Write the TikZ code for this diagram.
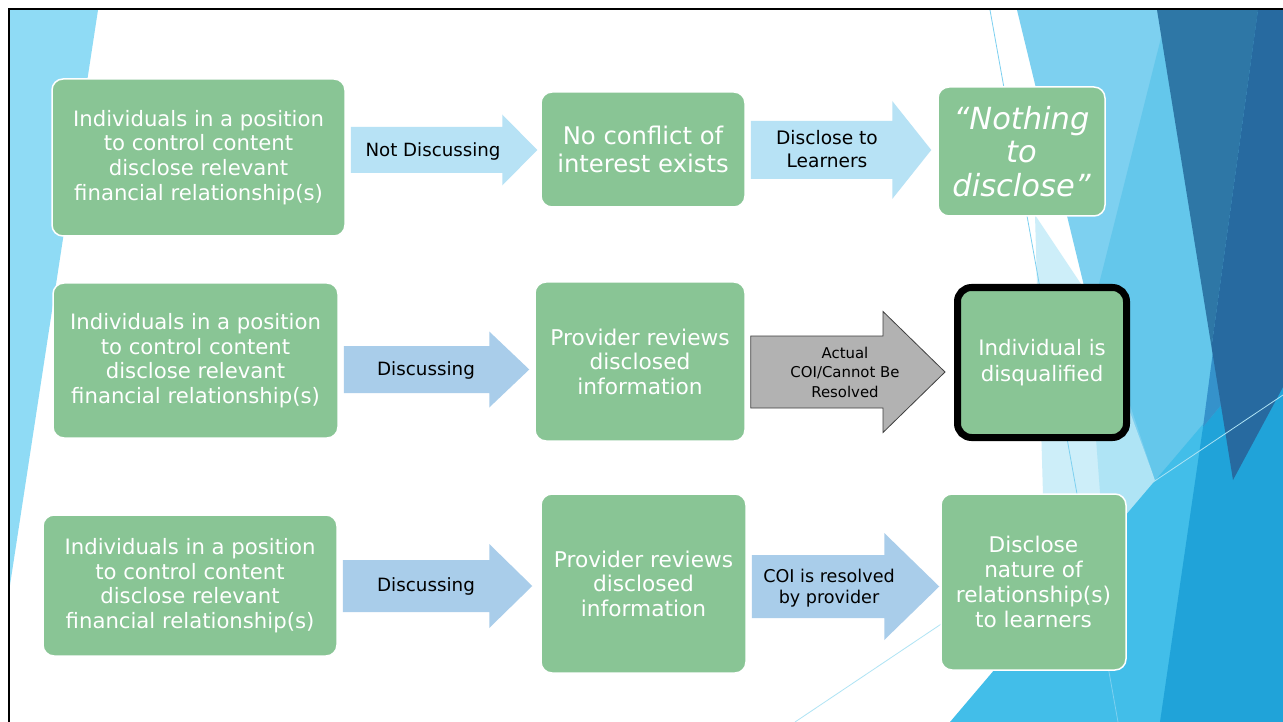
\documentclass[tikz,border=0pt]{standalone}
\usepackage{fontspec}
\setmainfont{DejaVu Sans}
\usetikzlibrary{positioning}

\definecolor{boxgreen}{RGB}{137,197,149}
\definecolor{paleblue}{RGB}{183,226,245}
\definecolor{steelblue}{RGB}{169,205,234}
\definecolor{coigray}{RGB}{178,178,178}
\definecolor{wedgeblue}{RGB}{143,219,245}
\definecolor{facetpale}{RGB}{205,238,249}
\definecolor{facetlight}{RGB}{125,208,240}
\definecolor{facetsoft}{RGB}{175,228,245}
\definecolor{facetmid}{RGB}{100,199,235}
\definecolor{facetcyan}{RGB}{66,190,233}
\definecolor{facetbright}{RGB}{32,163,217}
\definecolor{facetband}{RGB}{53,146,203}
\definecolor{facetdark}{RGB}{46,119,166}
\definecolor{facetdeep}{RGB}{39,106,160}

\newcommand{\fsz}[2]{\fontsize{#1}{#2}\selectfont}

% block arrow from one box to the next:
% #1 style, #2 from, #3 to, #4 centre y, #5 half shaft, #6 half head, #7 head length, #8 gap at tip
\newcommand{\blockarrow}[8]{%
  \coordinate (tail) at ([xshift=5pt]#2.east);
  \coordinate (tip) at ([xshift=-#8pt]#3.west);
  \coordinate (neck) at ([xshift=-#7pt]tip);
  \path[#1] (tail |- 0,{#4-#5}) -- (neck |- 0,{#4-#5}) -- (neck |- 0,{#4-#6})
    -- (tip |- 0,#4) -- (neck |- 0,{#4+#6}) -- (neck |- 0,{#4+#5})
    -- (tail |- 0,{#4+#5}) -- cycle;
}

\tikzset{
  greenbox/.style={draw=white, line width=1.5pt, fill=boxgreen, rounded corners=11pt,
    text=white, align=center, inner sep=0pt},
  arrowlabel/.style={text=black, align=center, inner sep=0pt},
}

\begin{document}
\begin{tikzpicture}[x=1pt,y=-1pt]
\useasboundingbox (0,0) rectangle (1283,722);
\fill[white] (0,0) rectangle (1283,722);

%background facets
\begin{scope}
\clip (10,10) rectangle (1283,722);
\fill[wedgeblue] (10,10) -- (98,10) -- (10,585) -- cycle;
\fill[facetlight] (1017,10) -- (1283,10) -- (1283,722) -- (1110,722) -- (1085,290) -- cycle;
\fill[facetpale] (1035,215) -- (1085,290) -- (1110,520) -- (1043,495) -- cycle;
\fill[facetsoft] (1085,290) -- (1155,480) -- (1105,560) -- cycle;
\fill[facetmid] (1168,10) -- (1283,10) -- (1283,722) -- (1155,480) -- (1095,300) -- cycle;
\fill[facetcyan] (1283,330) -- (1283,722) -- (950,722) -- cycle;
\fill[facetbright] (1203,427) -- (1283,330) -- (1283,722) -- (1160,722) -- cycle;
\fill[facetband] (1258,10) -- (1283,10) -- (1283,330) -- (1203,427) -- cycle;
\fill[facetdark] (1157,10) -- (1258,10) -- (1211.5,347) -- cycle;
\fill[facetdeep] (1258,10) -- (1283,10) -- (1283,387) -- (1233,480) -- (1211.5,347) -- cycle;
\draw[facetlight, line width=0.8pt] (990,10) -- (1118,722);
\draw[facetsoft, line width=0.8pt] (795,722) -- (1283,395);
\end{scope}
\draw[line width=2.5pt] (9,722) -- (9,9) -- (1283,9);

%row 1
\node[greenbox, minimum width=293pt, minimum height=157pt, font=\fsz{21.2}{24.7}] (src1) at (198.5,157.5)
  {Individuals in a position\\to control content\\disclose relevant\\financial relationship(s)};
\node[greenbox, minimum width=204pt, minimum height=115pt, font=\fsz{24.3}{28}] (mid1) at (643,149.5)
  {No conflict of\\interest exists};
\node[greenbox, minimum width=167pt, minimum height=129pt, font=\fsz{30.5}{33.5}\itshape] (out1) at (1021.5,151.5)
  {“Nothing\\to\\disclose”};
\blockarrow{fill=paleblue}{src1}{mid1}{150}{23}{35.5}{35}{3}
\blockarrow{fill=paleblue}{mid1}{out1}{150}{29}{49}{39}{6}
\node[arrowlabel, font=\fsz{18.2}{22}] (lbl1) at (433,151.5) {Not Discussing};
\node[arrowlabel, font=\fsz{18.6}{23}] (lbl2) at (827,149.5) {Disclose to\\Learners};

%row 2
\node[greenbox, minimum width=285pt, minimum height=155pt, font=\fsz{21.2}{24.7}] (src2) at (195.5,360.5)
  {Individuals in a position\\to control content\\disclose relevant\\financial relationship(s)};
\node[greenbox, minimum width=210pt, minimum height=159pt, font=\fsz{21.7}{24.5}] (mid2) at (640,361.5)
  {Provider reviews\\disclosed\\information};
\node[greenbox, draw=black, line width=7pt, rounded corners=14pt, minimum width=169pt, minimum height=150pt,
  font=\fsz{21.3}{26}] (out2) at (1042,362.5) {Individual is\\disqualified};
\blockarrow{fill=steelblue}{src2}{mid2}{369.5}{23.5}{38}{40}{5}
\blockarrow{fill=coigray, draw=black!75, line width=0.8pt}{mid2}{out2}{372}{36}{60.5}{62}{9}
\node[arrowlabel, font=\fsz{18.3}{22}] (lbl3) at (426,370.5) {Discussing};
\node[arrowlabel, font=\fsz{14.9}{19.5}] (lbl4) at (845,372) {Actual\\COI/Cannot Be\\Resolved};

%row 3
\node[greenbox, minimum width=294pt, minimum height=141pt, font=\fsz{21.2}{24.7}] (src3) at (190,585.5)
  {Individuals in a position\\to control content\\disclose relevant\\financial relationship(s)};
\node[greenbox, minimum width=205pt, minimum height=179pt, font=\fsz{21.7}{24.5}] (mid3) at (643.5,583.5)
  {Provider reviews\\disclosed\\information};
\node[greenbox, minimum width=185pt, minimum height=176pt, font=\fsz{21.6}{25}] (out3) at (1033.5,582)
  {Disclose\\nature of\\relationship(s)\\to learners};
\blockarrow{fill=steelblue}{src3}{mid3}{586}{26}{42}{43}{8}
\blockarrow{fill=steelblue}{mid3}{out3}{586.5}{31.5}{53.5}{55}{1}
\node[arrowlabel, font=\fsz{18.3}{22}] (lbl5) at (426,586.5) {Discussing};
\node[arrowlabel, font=\fsz{17.6}{21}] (lbl6) at (829,588) {COI is resolved\\by provider};

\end{tikzpicture}
\end{document}
